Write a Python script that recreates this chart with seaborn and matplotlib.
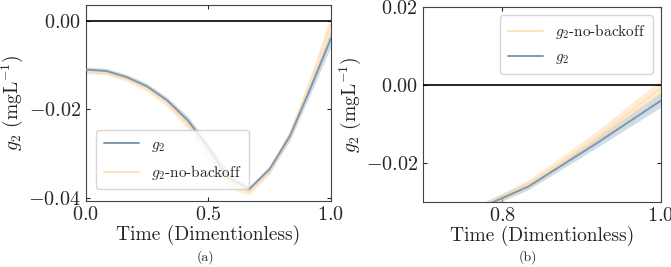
import numpy as np
import pandas as pd
import matplotlib
matplotlib.use("Agg")
import matplotlib.pyplot as plt
import seaborn as sns

# data
t = [0.0, 0.083, 0.167, 0.25, 0.333, 0.417, 0.5, 0.583, 0.667, 0.75, 0.833, 0.917, 1.0]
g2_mean = [-0.0110, -0.0113, -0.0127, -0.0148, -0.0180, -0.0225, -0.0286, -0.0354,
           -0.0380, -0.0335, -0.0260, -0.0152, -0.0040]
g2_std = [0.0006, 0.0006, 0.0006, 0.0007, 0.0007, 0.0009, 0.0011, 0.0011,
          0.0006, 0.0008, 0.0010, 0.0013, 0.0019]
nb_mean = [-0.0113, -0.0116, -0.0131, -0.0153, -0.0186, -0.0235, -0.0300, -0.0366,
           -0.0386, -0.0338, -0.0256, -0.0138, -0.0008]
nb_std = [0.0006, 0.0006, 0.0006, 0.0007, 0.0008, 0.0010, 0.0012, 0.0012,
          0.0007, 0.0009, 0.0011, 0.0014, 0.0020]

df = pd.DataFrame({"t": t * 2,
                   "g": g2_mean + nb_mean,
                   "s": g2_std + nb_std,
                   "run": ["g2"] * len(t) + ["nb"] * len(t)})

sns.set_style("ticks")
plt.rcParams["font.family"] = "serif"
plt.rcParams["font.serif"] = ["cmr10", "DejaVu Serif"]
plt.rcParams["mathtext.fontset"] = "cm"
plt.rcParams["axes.formatter.use_mathtext"] = True
plt.rcParams["axes.unicode_minus"] = True

blue_line, blue_band = "#7f98b0", "#9bb2c6"
orng_line, orng_band = "#fde2ba", "#fdd6a2"
lab_g2 = r"$g_2$"
lab_nb = r"$g_2$-no-backoff"

fig = plt.figure(figsize=(6.71, 2.67), dpi=100)
ax1 = fig.add_axes([0.128, 0.247, 0.365, 0.734])
ax2 = fig.add_axes([0.630, 0.243, 0.355, 0.731])


def draw(ax, order):
    for key in order:
        d = df[df.run == key]
        if key == "g2":
            lc, bc, lab = blue_line, blue_band, lab_g2
        else:
            lc, bc, lab = orng_line, orng_band, lab_nb
        sns.lineplot(x=d.t, y=d.g, ax=ax, color=lc, lw=1.4, label=lab,
                     zorder=3 if key == "g2" else 2)
        ax.fill_between(d.t, d.g - d.s, d.g + d.s, color=bc, alpha=0.45, lw=0, zorder=1)
    ax.axhline(0, color="black", lw=1.2, zorder=4)
    ax.tick_params(direction="in", top=True, right=True, labelsize=14.5, length=3)
    ax.set_xlabel("Time (Dimentionless)", fontsize=14, labelpad=1)
    ax.set_ylabel(r"$g_2$ (mgL$^{-1}$)", fontsize=14, labelpad=2)
    for sp in ax.spines.values():
        sp.set_color("#444444")


draw(ax1, ["g2", "nb"])
ax1.set_xlim(0, 1.0)
ax1.set_ylim(-0.0407, 0.0036)
ax1.set_xticks([0.0, 0.5, 1.0])
ax1.set_yticks([0.00, -0.02, -0.04])
ax1.legend(loc="lower left", fontsize=11, framealpha=0.8, handlelength=2.3,
           bbox_to_anchor=(0.01, 0.02), borderpad=0.5, labelspacing=0.6)

draw(ax2, ["g2", "nb"])
ax2.set_xlim(0.7, 1.0)
ax2.set_ylim(-0.03, 0.02)
ax2.set_xticks([0.8, 1.0])
ax2.set_yticks([0.02, 0.00, -0.02])
h, l = ax2.get_legend_handles_labels()
ax2.legend(h[::-1], l[::-1], loc="upper right", fontsize=11, framealpha=0.8,
           handlelength=2.3, borderpad=0.5, labelspacing=0.6)

fig.text(0.306, 0.025, "(a)", fontsize=10, ha="center")
fig.text(0.787, 0.025, "(b)", fontsize=10, ha="center")

fig.savefig("out.png", dpi=100)
